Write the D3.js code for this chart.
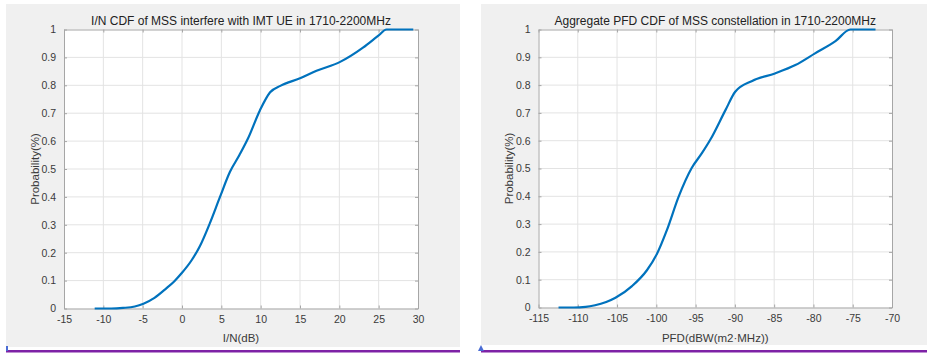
<!DOCTYPE html>
<html>
<head>
<meta charset="utf-8">
<script src="https://cdn.jsdelivr.net/npm/d3@7"></script>
<style>
  body { margin: 0; background: #fff; }
  svg { display: block; font-family: "Liberation Sans", Arial, sans-serif; }
</style>
</head>
<body>
<div id="chart-container"></div>
<script>
const svgWidth = 927, svgHeight = 353;

// left panel: I/N CDF
const inX = [-11.1, -9, -7.5, -6, -4.9, -3.5, -2, -1, 0, 1.2, 2.3, 3.56, 4.83, 6.1, 7.3, 8.4, 9.9, 11.2, 12.5, 15, 17.1, 20.1, 23.05, 24.96, 26.0, 29.4];
const inP = [0, 0, 0.002, 0.007, 0.017, 0.038, 0.072, 0.097, 0.128, 0.172, 0.225, 0.307, 0.40, 0.49, 0.55, 0.61, 0.71, 0.775, 0.798, 0.825, 0.852, 0.884, 0.936, 0.978, 1.0, 1.0];

// right panel: aggregate PFD CDF
const pfdX = [-112.45, -110.5, -109, -107.8, -105.2, -103.1, -101.2, -99.9, -98.66, -97.17, -95.5, -94.2, -93.1, -91.2, -89.96, -87.8, -84.9, -82.3, -79.8, -77.2, -75.3, -72.1];
const pfdP = [0, 0, 0.002, 0.008, 0.035, 0.077, 0.134, 0.194, 0.278, 0.398, 0.502, 0.555, 0.605, 0.71, 0.776, 0.815, 0.842, 0.872, 0.914, 0.958, 1.0, 1.0];

const inTicks = [-15, -10, -5, 0, 5, 10, 15, 20, 25, 30];
const pfdTicks = [-115, -110, -105, -100, -95, -90, -85, -80, -75, -70];
const probTicks = [0, 0.1, 0.2, 0.3, 0.4, 0.5, 0.6, 0.7, 0.8, 0.9, 1];

const panels = [
  { bg: [6, 4, 454, 343], plot: [64, 29.5, 418, 308.5], xDom: [-15, 30], xs: inX, ys: inP, ticks: inTicks,
    title: "I/N CDF of MSS interfere with IMT UE in 1710-2200MHz", xlab: "I/N(dB)", ylabX: 35,
    line: [6, 460], marker: "rect" },
  { bg: [481, 4, 446, 341], plot: [538.5, 29.5, 892, 307.5], xDom: [-115, -70], xs: pfdX, ys: pfdP, ticks: pfdTicks,
    title: "Aggregate PFD CDF of MSS constellation in 1710-2200MHz", xlab: "PFD(dBW(m2\u00b7MHz))", ylabX: 509,
    line: [481, 927], marker: "tri" }
];

var svg = d3.select("#chart-container").append("svg")
    .attr("width", svgWidth)
    .attr("height", svgHeight);

panels.forEach((p) => {
    const [x0, y0, x1, y1] = p.plot;
    const g = svg.append("g");

    g.append("rect")
        .attr("x", p.bg[0]).attr("y", p.bg[1])
        .attr("width", p.bg[2]).attr("height", p.bg[3])
        .attr("fill", "#f0f0f0");

    // purple underline
    g.append("rect")
        .attr("x", p.line[0]).attr("y", 350)
        .attr("width", p.line[1] - p.line[0]).attr("height", 2.5)
        .attr("fill", "#7e22a6");
    if (p.marker == "tri") {
        g.append("path")
            .attr("d", `M${p.line[0] - 3},351 L${p.line[0]},345 L${p.line[0] + 3},351 Z`)
            .attr("fill", "#4a6cd4");
    } else {
        g.append("rect")
            .attr("x", p.line[0]).attr("y", 346).attr("width", 2).attr("height", 5)
            .attr("fill", "#4a6cd4");
    }

    let xScale = d3.scaleLinear().domain(p.xDom).range([x0, x1]),
        yScale = d3.scaleLinear().domain([0, 1]).range([y1, y0]);

    g.append("rect")
        .attr("x", x0).attr("y", y0)
        .attr("width", x1 - x0).attr("height", y1 - y0)
        .attr("fill", "#fff");

    // grid
    g.append("g").selectAll("line")
        .data(p.ticks.slice(1, -1))
        .join("line")
        .attr("x1", (d) => xScale(d)).attr("x2", (d) => xScale(d))
        .attr("y1", y0).attr("y2", y1)
        .attr("stroke", "#e3e3e3");
    g.append("g").selectAll("line")
        .data(probTicks.slice(1, -1))
        .join("line")
        .attr("y1", (d) => yScale(d)).attr("y2", (d) => yScale(d))
        .attr("x1", x0).attr("x2", x1)
        .attr("stroke", "#e3e3e3");

    // axes
    const xAxis = g.append("g")
        .attr("transform", "translate(0," + y1 + ")")
        .call(d3.axisBottom(xScale).tickValues(p.ticks).tickSizeInner(-3).tickSizeOuter(0).tickPadding(8).tickFormat((d) => String(d)));
    g.append("g")
        .attr("transform", "translate(" + x0 + ",0)")
        .call(d3.axisLeft(yScale).tickValues(probTicks).tickSizeInner(-3).tickSizeOuter(0).tickPadding(8).tickFormat((d) => String(d)));
    g.append("g")
        .attr("transform", "translate(0," + y0 + ")")
        .call(d3.axisTop(xScale).tickValues(p.ticks).tickSizeInner(-3).tickSizeOuter(0).tickFormat(""));
    g.append("g")
        .attr("transform", "translate(" + x1 + ",0)")
        .call(d3.axisRight(yScale).tickValues(probTicks).tickSizeInner(-3).tickSizeOuter(0).tickFormat(""));
    g.selectAll(".domain").attr("stroke", "#a6a6a6");
    g.selectAll(".tick line").attr("stroke", "#a6a6a6");
    g.selectAll(".tick text").attr("fill", "#3a3a3a").style("font-size", "10.5px");
    xAxis.selectAll(".tick text").attr("dy", "0.6em");

    // curve
    g.append("path")
        .datum(p.xs.map((x, i) => [x, p.ys[i]]))
        .attr("fill", "none")
        .attr("stroke", "#0072bd")
        .attr("stroke-width", 2.2)
        .attr("d", d3.line()
            .x((d) => xScale(d[0]))
            .y((d) => yScale(d[1]))
            .curve(d3.curveMonotoneX));

    // labels
    g.append("text")
        .attr("x", (x0 + x1) / 2).attr("y", 25)
        .attr("text-anchor", "middle")
        .attr("fill", "#222")
        .style("font-size", "12px")
        .text(p.title);
    g.append("text")
        .attr("x", (x0 + x1) / 2).attr("y", 342)
        .attr("text-anchor", "middle")
        .attr("fill", "#3a3a3a")
        .style("font-size", "11.5px")
        .text(p.xlab);
    g.append("text")
        .attr("transform", "translate(" + p.ylabX + "," + ((y0 + y1) / 2) + ") rotate(-90)")
        .attr("dy", "0.35em")
        .attr("text-anchor", "middle")
        .attr("fill", "#3a3a3a")
        .style("font-size", "11.5px")
        .text("Probability(%)");
});
</script>
</body>
</html>
